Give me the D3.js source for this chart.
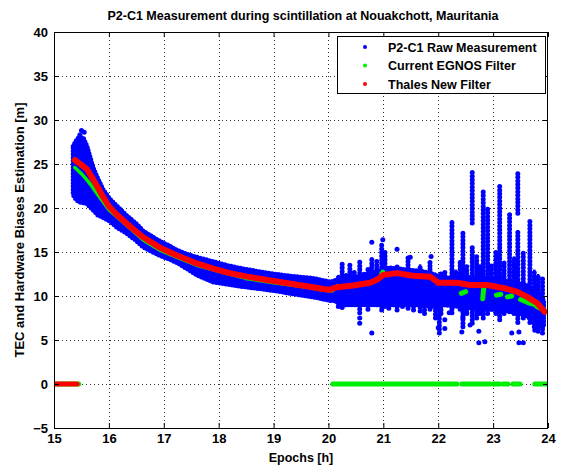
<!DOCTYPE html>
<html>
<head>
<meta charset="utf-8">
<script src="https://cdn.jsdelivr.net/npm/d3@7"></script>
<style>
  html, body { margin: 0; padding: 0; background: #fff; }
  svg { display: block; font-family: "Liberation Sans", Arial, sans-serif; }
</style>
</head>
<body>
<svg id="chart" width="569" height="467"></svg>
<script>
// ---------------- data ----------------
const titleText = "P2-C1 Measurement during scintillation at Nouakchott, Mauritania";
const xLabelText = "Epochs [h]";
const yLabelText = "TEC and Hardware Biases Estimation [m]";
const xTicks = [15, 16, 17, 18, 19, 20, 21, 22, 23, 24];
const yTicks = [-5, 0, 5, 10, 15, 20, 25, 30, 35, 40];
const legendLabels = ["P2-C1 Raw Measurement", "Current EGNOS Filter", "Thales New Filter"];
const seriesColors = ["#0000ff", "#00ee00", "#ff0000"];

// Raw measurement: dense envelope [t, low, high]
const rawBand = [
  [15.35, 21.5, 27.0], [15.40, 21.0, 27.6], [15.45, 20.7, 28.0], [15.53, 20.6, 28.0],
  [15.60, 20.5, 27.0], [15.71, 19.8, 24.6], [15.80, 19.2, 23.3], [15.90, 18.9, 22.0],
  [16.02, 18.5, 21.0], [16.15, 17.8, 20.2], [16.33, 17.1, 19.1], [16.50, 16.3, 18.2],
  [16.62, 15.6, 17.4], [16.80, 15.0, 16.7], [16.93, 14.6, 16.2], [17.10, 14.2, 15.7],
  [17.24, 13.8, 15.2], [17.40, 13.2, 14.8], [17.60, 12.4, 14.4], [17.90, 11.6, 13.9],
  [18.20, 11.3, 13.4], [18.52, 11.0, 13.0], [18.80, 10.8, 12.7], [19.12, 10.5, 12.4],
  [19.40, 10.2, 12.2], [19.72, 9.9, 12.0], [20.03, 9.5, 11.6], [20.10, 9.5, 11.7],
  [20.30, 9.0, 12.2], [20.60, 9.0, 12.2], [20.90, 9.0, 12.8], [21.10, 9.0, 13.2],
  [21.40, 9.0, 13.0], [21.70, 9.0, 12.8], [21.90, 8.8, 12.5], [22.10, 9.0, 12.0],
  [22.40, 8.8, 12.2], [22.70, 8.6, 12.0], [23.00, 8.5, 12.0], [23.30, 8.3, 11.6],
  [23.60, 7.8, 11.2], [23.80, 7.0, 10.5], [23.92, 6.5, 9.5]
];
// Raw measurement: vertical scintillation streaks [t, low, high]
const rawStreaks = [
  [15.84, 21.0, 22.4],
  [20.10, 9.6, 11.2], [20.18, 8.8, 12.4], [20.25, 8.7, 13.8], [20.32, 9.0, 12.6],
  [20.39, 9.4, 13.5], [20.47, 9.0, 12.8], [20.57, 8.1, 14.1], [20.65, 9.2, 12.5],
  [20.72, 8.5, 13.0], [20.79, 9.2, 14.4], [20.88, 9.0, 14.0], [20.97, 8.4, 16.0],
  [21.03, 8.8, 15.0], [21.10, 8.6, 13.2], [21.18, 9.0, 12.8], [21.25, 8.4, 13.5],
  [21.35, 8.8, 13.0], [21.45, 8.6, 14.4], [21.55, 8.4, 12.8], [21.67, 8.3, 13.6],
  [21.75, 8.0, 12.8], [21.85, 8.5, 14.0], [21.95, 7.5, 12.0], [22.02, 5.8, 11.8],
  [22.05, 8.0, 12.5], [22.12, 9.0, 12.8], [22.25, 8.1, 18.6], [22.32, 9.0, 13.0],
  [22.40, 8.5, 14.0], [22.45, 6.5, 17.2], [22.52, 8.0, 13.5], [22.62, 18.3, 24.1],
  [22.62, 6.9, 15.6], [22.70, 7.5, 14.5], [22.76, 8.0, 13.5], [22.82, 7.5, 22.0],
  [22.90, 8.0, 20.1], [22.97, 8.5, 13.5], [23.05, 8.0, 15.0], [23.12, 7.3, 22.6],
  [23.20, 8.0, 14.0], [23.30, 8.2, 19.4], [23.38, 8.0, 14.5], [23.45, 19.4, 24.1],
  [23.45, 7.0, 17.5], [23.55, 7.5, 15.0], [23.67, 7.0, 18.6], [23.75, 6.5, 13.0],
  [23.82, 6.0, 12.5], [23.90, 5.8, 12.0]
];
// Raw measurement: isolated outliers [t, value]
const rawDots = [
  [15.47, 28.3], [15.50, 28.8], [15.55, 28.6],
  [20.79, 16.1], [20.99, 16.4], [21.25, 15.3], [21.49, 14.4], [21.87, 14.5],
  [20.57, 7.5], [20.57, 6.9], [20.79, 5.8], [20.90, 9.3],
  [22.00, 8.4], [22.00, 6.4], [22.12, 7.3], [22.12, 6.3], [22.20, 8.1],
  [22.43, 5.9], [22.45, 7.5], [22.58, 6.7], [22.74, 6.0], [22.74, 4.7],
  [22.85, 4.8], [23.34, 5.8], [23.47, 5.9], [23.47, 4.7], [23.55, 4.7], [23.76, 6.1]
];

// Current EGNOS filter
const egnosCurve = [
  [15.38, 24.6], [15.50, 23.9], [15.60, 23.2], [15.70, 22.4], [15.80, 21.5],
  [16.00, 19.8], [16.33, 18.0], [16.62, 16.4], [16.93, 15.2], [17.24, 14.4],
  [17.60, 13.5], [18.00, 12.8], [18.50, 12.0], [19.00, 11.5], [19.50, 11.1],
  [20.00, 10.6], [20.08, 10.6]
];
// EGNOS filter lumps after 20 h [t0, v0, t1, v1]
const egnosLumps = [
  [20.15, 11.0, 20.17, 11.1], [20.97, 12.5, 20.99, 12.7],
  [22.42, 10.3, 22.50, 10.5], [22.81, 9.7, 22.83, 10.9], [23.06, 10.1, 23.14, 10.2],
  [23.26, 9.9, 23.34, 10.0], [23.50, 9.6, 23.62, 9.3], [23.66, 9.2, 23.78, 9.0],
  [23.80, 8.8, 23.86, 8.6]
];
// EGNOS filter outputs at zero [t0, t1]
const egnosZero = [
  [15.00, 15.45], [20.08, 22.34], [22.43, 22.94], [23.00, 23.12],
  [23.18, 23.27], [23.36, 23.49], [23.76, 24.00]
];

// Thales new filter
const thalesCurve = [
  [15.38, 25.45], [15.50, 24.9], [15.60, 24.4], [15.70, 23.4], [15.80, 22.3],
  [15.90, 21.2], [16.00, 20.2], [16.15, 19.2], [16.33, 18.2], [16.50, 17.3],
  [16.62, 16.7], [16.80, 16.0], [16.93, 15.5], [17.10, 15.0], [17.24, 14.6],
  [17.40, 14.2], [17.60, 13.7], [17.90, 13.1], [18.20, 12.6], [18.52, 12.2],
  [18.80, 11.9], [19.12, 11.6], [19.40, 11.3], [19.72, 11.0], [19.90, 10.8],
  [20.03, 10.7], [20.10, 10.9], [20.16, 11.0], [20.45, 11.2], [20.76, 11.5],
  [20.90, 11.9], [21.00, 12.4], [21.25, 12.6], [21.54, 12.3], [21.85, 12.2],
  [21.92, 11.9], [22.00, 11.5], [22.34, 11.5], [22.58, 11.25], [22.90, 11.25],
  [23.10, 11.0], [23.20, 10.9], [23.43, 10.5], [23.62, 9.9], [23.80, 9.2],
  [23.94, 8.2]
];
const thalesZero = [[15.00, 15.42]];

// ---------------- chart ----------------
const W = 569, H = 467;
const m = { left: 54, right: 548, top: 32, bottom: 428 };
const FONT = "'Liberation Sans', Arial, sans-serif";
const svg = d3.select("#chart");
svg.append("rect").attr("width", W).attr("height", H).attr("fill", "#fff");

const x = d3.scaleLinear().domain([15, 24]).range([m.left, m.right]);
const y = d3.scaleLinear().domain([-5, 40]).range([m.bottom, m.top]);

svg.append("clipPath").attr("id", "plotclip")
  .append("rect").attr("x", m.left).attr("y", m.top)
  .attr("width", m.right - m.left).attr("height", m.bottom - m.top);

// grid
const grid = svg.append("g").attr("stroke", "#333").attr("stroke-width", 1)
  .attr("stroke-dasharray", "1,3").attr("shape-rendering", "crispEdges");
grid.selectAll("line.gx").data(xTicks.slice(1, -1)).join("line")
  .attr("x1", d => Math.round(x(d)) + 0.5).attr("x2", d => Math.round(x(d)) + 0.5)
  .attr("y1", m.top).attr("y2", m.bottom);
grid.selectAll("line.gy").data(yTicks.slice(1, -1)).join("line")
  .attr("y1", d => Math.round(y(d)) + 0.5).attr("y2", d => Math.round(y(d)) + 0.5)
  .attr("x1", m.left).attr("x2", m.right);

const plot = svg.append("g").attr("clip-path", "url(#plotclip)");

// raw measurements (blue)
const blue = seriesColors[0];
const bandArea = d3.area().x(d => x(d[0])).y0(d => y(d[1])).y1(d => y(d[2]));
plot.append("path").datum(rawBand).attr("d", bandArea)
  .attr("fill", blue).attr("stroke", "none");
// beaded outline to mimic the dot texture of the cloud edge
plot.append("path").datum(rawBand).attr("d", bandArea)
  .attr("fill", "none").attr("stroke", blue).attr("stroke-width", 5)
  .attr("stroke-dasharray", "0,3.2").attr("stroke-linecap", "round");
plot.selectAll("line.streak").data(rawStreaks).join("line")
  .attr("x1", d => x(d[0])).attr("x2", d => x(d[0]))
  .attr("y1", d => y(d[1])).attr("y2", d => y(d[2]))
  .attr("stroke", blue).attr("stroke-width", 5).attr("stroke-linecap", "round")
  .attr("stroke-dasharray", "0,3.6");
plot.selectAll("line.streak2").data(rawStreaks).join("line")
  .attr("x1", d => x(d[0])).attr("x2", d => x(d[0]))
  .attr("y1", d => y(d[1])).attr("y2", d => y(d[2]))
  .attr("stroke", blue).attr("stroke-width", 2.5);
plot.selectAll("circle.dot").data(rawDots).join("circle")
  .attr("cx", d => x(d[0])).attr("cy", d => y(d[1])).attr("r", 2.5).attr("fill", blue);

// EGNOS filter (green)
const green = seriesColors[1];
const line = d3.line().x(d => x(d[0])).y(d => y(d[1]));
plot.append("path").datum(egnosCurve).attr("d", line)
  .attr("fill", "none").attr("stroke", green).attr("stroke-width", 3.5)
  .attr("stroke-linecap", "round").attr("stroke-linejoin", "round");
plot.selectAll("line.lump").data(egnosLumps).join("line")
  .attr("x1", d => x(d[0])).attr("y1", d => y(d[1]))
  .attr("x2", d => x(d[2])).attr("y2", d => y(d[3]))
  .attr("stroke", green).attr("stroke-width", 5).attr("stroke-linecap", "round");
plot.selectAll("line.gz").data(egnosZero).join("line")
  .attr("x1", d => x(d[0])).attr("x2", d => x(d[1]))
  .attr("y1", y(0)).attr("y2", y(0))
  .attr("stroke", green).attr("stroke-width", 5).attr("stroke-linecap", "round");

// Thales filter (red)
const red = seriesColors[2];
plot.append("path").datum(thalesCurve).attr("d", line)
  .attr("fill", "none").attr("stroke", red).attr("stroke-width", 6)
  .attr("stroke-linecap", "round").attr("stroke-linejoin", "round");
plot.selectAll("line.rz").data(thalesZero).join("line")
  .attr("x1", d => x(d[0])).attr("x2", d => x(d[1]))
  .attr("y1", y(0)).attr("y2", y(0))
  .attr("stroke", red).attr("stroke-width", 5).attr("stroke-linecap", "round");

// axes
const axB = d3.axisBottom(x).tickValues(xTicks).tickSizeInner(-5).tickSizeOuter(0).tickPadding(6).tickFormat(d3.format("d"));
const axL = d3.axisLeft(y).tickValues(yTicks).tickSizeInner(-5).tickSizeOuter(0).tickPadding(6).tickFormat(d3.format("d"));
const axT = d3.axisTop(x).tickValues(xTicks).tickSizeInner(-5).tickSizeOuter(0).tickFormat("");
const axR = d3.axisRight(y).tickValues(yTicks).tickSizeInner(-5).tickSizeOuter(0).tickFormat("");

function styleAxis(g) {
  g.select(".domain").remove();
  g.selectAll("line").attr("stroke", "#000");
  g.selectAll("text").attr("fill", "#000").style("font-size", "13px")
    .style("font-weight", "bold").style("font-family", FONT);
}
svg.append("g").attr("transform", `translate(0,${m.bottom})`).call(axB).call(styleAxis);
svg.append("g").attr("transform", `translate(${m.left},0)`).call(axL).call(styleAxis);
svg.append("g").attr("transform", `translate(0,${m.top})`).call(axT).call(styleAxis);
svg.append("g").attr("transform", `translate(${m.right},0)`).call(axR).call(styleAxis);

// frame
svg.append("rect").attr("x", m.left + 0.5).attr("y", m.top + 0.5)
  .attr("width", m.right - m.left - 1).attr("height", m.bottom - m.top)
  .attr("fill", "none").attr("stroke", "#000").attr("stroke-width", 1);

// titles
svg.append("text").attr("x", (m.left + m.right) / 2 + 2).attr("y", 20)
  .attr("text-anchor", "middle").style("font-size", "12.5px").style("font-weight", "bold")
  .text(titleText);
svg.append("text").attr("x", (m.left + m.right) / 2).attr("y", 462)
  .attr("text-anchor", "middle").style("font-size", "12.5px").style("font-weight", "bold")
  .text(xLabelText);
svg.append("text").attr("transform", `translate(24,${(m.top + m.bottom) / 2}) rotate(-90)`)
  .attr("text-anchor", "middle").style("font-size", "13px").style("font-weight", "bold")
  .text(yLabelText);

// legend
const lg = svg.append("g");
lg.append("rect").attr("x", 337.5).attr("y", 36.5).attr("width", 208).attr("height", 57)
  .attr("fill", "#fff").attr("stroke", "#000").attr("stroke-width", 1);
legendLabels.forEach((lab, i) => {
  const cy = 47 + i * 18.5;
  lg.append("circle").attr("cx", 365).attr("cy", cy).attr("r", 2).attr("fill", seriesColors[i]);
  lg.append("text").attr("x", 388).attr("y", cy + 4.5)
    .style("font-size", "12.5px").style("font-weight", "bold").text(lab);
});
</script>
</body>
</html>
